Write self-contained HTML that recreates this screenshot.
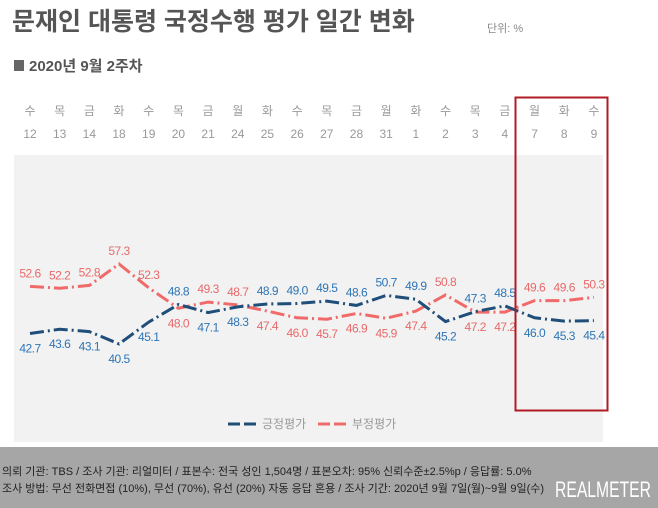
<!DOCTYPE html>
<html><head><meta charset="utf-8"><style>
body{margin:0;width:658px;height:508px;background:#fff;overflow:hidden;font-family:"Liberation Sans","Noto Sans CJK KR",sans-serif;}
</style></head><body>
<svg width="658" height="508" xmlns="http://www.w3.org/2000/svg" style="position:absolute;left:0;top:0;font-family:'Liberation Sans','Noto Sans CJK KR',sans-serif">
<text x="12" y="30" font-size="25" font-weight="bold" fill="#555">문재인 대통령 국정수행 평가 일간 변화</text>
<text x="487" y="32" font-size="11" fill="#888">단위: %</text>
<rect x="14" y="60" width="10" height="11" fill="#666"/>
<text x="29" y="71" font-size="15" font-weight="bold" fill="#555">2020년 9월 2주차</text>
<rect x="14" y="155" width="589" height="287" fill="#f2f2f2"/>
<g font-size="12" fill="#999" text-anchor="middle" id="ax"></g>
<g id="lines"></g>
<rect x="515.5" y="97.5" width="92" height="313" fill="none" stroke="#b01c26" stroke-width="2"/>
<line x1="228" y1="424" x2="240" y2="424" stroke="#1f4e79" stroke-width="3"/>
<line x1="244" y1="424" x2="256" y2="424" stroke="#1f4e79" stroke-width="3"/>
<text x="262" y="428" font-size="12" fill="#999">긍정평가</text>
<line x1="318" y1="424" x2="330" y2="424" stroke="#f06a6a" stroke-width="3"/>
<line x1="334" y1="424" x2="346" y2="424" stroke="#f06a6a" stroke-width="3"/>
<text x="352" y="428" font-size="12" fill="#999">부정평가</text>
<rect x="0" y="447" width="658" height="61" fill="#a6a6a6"/>
<text x="2" y="475" font-size="11" fill="#222">의뢰 기관: TBS / 조사 기관: 리얼미터 / 표본수: 전국 성인 1,504명 / 표본오차: 95% 신뢰수준±2.5%p / 응답률: 5.0%</text>
<text x="2" y="492" font-size="11" fill="#222">조사 방법: 무선 전화면접 (10%), 무선 (70%), 유선 (20%) 자동 응답 혼용 / 조사 기간: 2020년 9월 7일(월)~9월 9일(수)</text>
<text x="555" y="497" font-size="22" fill="#fff" textLength="96" lengthAdjust="spacingAndGlyphs">REALMETER</text>
</svg>
<script>
var days="수 목 금 화 수 목 금 월 화 수 목 금 월 화 수 목 금 월 화 수".split(" ");
var dates="12 13 14 18 19 20 21 24 25 26 27 28 31 1 2 3 4 7 8 9".split(" ");
var b=[42.7,43.6,43.1,40.5,45.1,48.8,47.1,48.3,48.9,49.0,49.5,48.6,50.7,49.9,45.2,47.3,48.5,46.0,45.3,45.4];
var r=[52.6,52.2,52.8,57.3,52.3,48.0,49.3,48.7,47.4,46.0,45.7,46.9,45.9,47.4,50.8,47.2,47.2,49.6,49.6,50.3];
function X(i){return 30+i*29.68}function Y(v){return 264+(57.3-v)*4.76}
var ns="http://www.w3.org/2000/svg",s="";
for(var i=0;i<20;i++){s+='<text x="'+X(i)+'" y="115">'+days[i]+'</text><text x="'+X(i)+'" y="138">'+dates[i]+'</text>';}
document.getElementById("ax").innerHTML=s;
function pts(a){return a.map(function(v,i){return X(i)+","+Y(v)}).join(" ")}
var l='<polyline points="'+pts(r)+'" fill="none" stroke="#f06a6a" stroke-width="3" stroke-dasharray="14 4 2 4"/>';
l+='<polyline points="'+pts(b)+'" fill="none" stroke="#1f4e79" stroke-width="3" stroke-dasharray="14 4 2 4"/>';
for(var i=0;i<20;i++){var ra=r[i]>=b[i];
l+='<text x="'+X(i)+'" y="'+(Y(r[i])+(ra?-9:19))+'" font-size="12" fill="#e8696a" text-anchor="middle" letter-spacing="-0.5">'+r[i].toFixed(1)+'</text>';
l+='<text x="'+X(i)+'" y="'+(Y(b[i])+(ra?19:-9))+'" font-size="12" fill="#2e75b6" text-anchor="middle" letter-spacing="-0.5">'+b[i].toFixed(1)+'</text>';}
document.getElementById("lines").innerHTML=l;
</script>
</body></html>
